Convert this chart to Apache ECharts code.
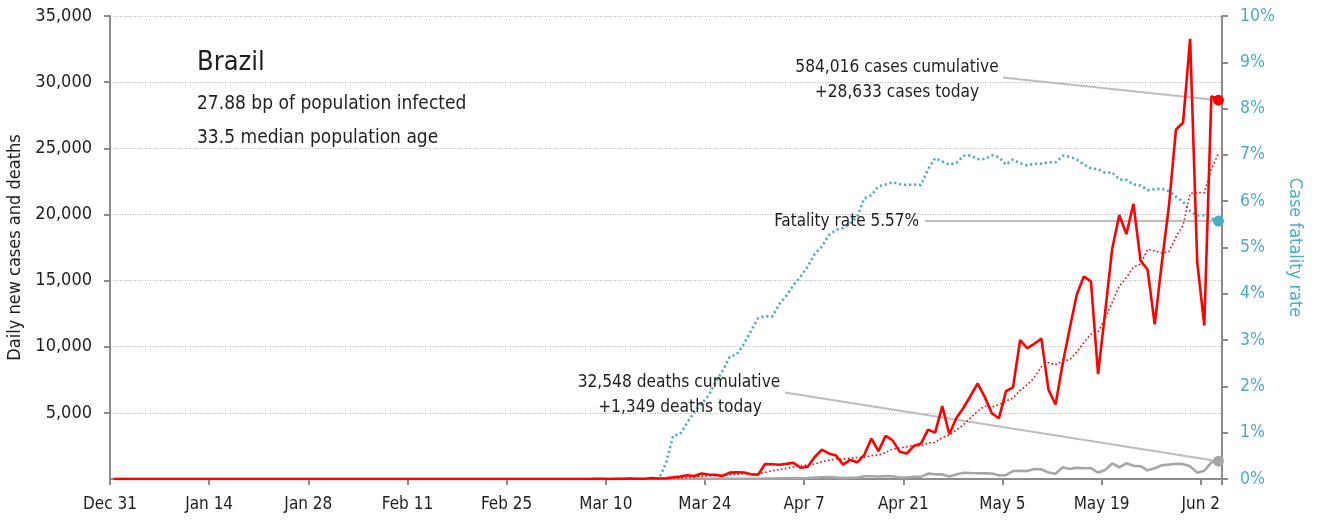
<!DOCTYPE html>
<html>
<head>
<meta charset="utf-8">
<title>Brazil</title>
<script src="https://cdn.jsdelivr.net/npm/echarts@6/dist/echarts.min.js"></script>
<style>
  html, body { margin: 0; padding: 0; background: #fff; }
  #chart { width: 1321px; height: 520px; }
</style>
</head>
<body>
<div id="chart"></div>
<script>
// one value per day, day 0 = Dec 31 2019, last day = Jun 4 2020
const FONT = '"DejaVu Sans Condensed", "Liberation Sans Narrow", sans-serif'
const RED = '#ff0000'
const GREY = '#a6a6a6'
const CYAN = '#4bacc6'
const INK = '#1e1e1e'

const tickLabels = ['Dec 31', 'Jan 14', 'Jan 28', 'Feb 11', 'Feb 25', 'Mar 10',
  'Mar 24', 'Apr 7', 'Apr 21', 'May 5', 'May 19', 'Jun 2']

// daily new cases
const cases = [
  0, 0, 0, 0, 0, 0, 0, 0, 0, 0,
  0, 0, 0, 0, 0, 0, 0, 0, 0, 0,
  0, 0, 0, 0, 0, 0, 0, 0, 0, 0,
  0, 0, 0, 0, 0, 0, 0, 0, 0, 0,
  0, 0, 0, 0, 0, 0, 0, 0, 0, 0,
  0, 0, 0, 0, 0, 0, 0, 0,
  1, 0, 0, 0, 1, 0, 0, 1,
  4, 5, 6, 6, 0, 9, 18, 25, 21, 23,
  79, 34, 57, 137, 193, 283, 224, 418, 345, 310,
  232, 482, 502, 487, 352, 323, 1138,
  1119, 1074, 1146, 1222, 852, 926, 1661, 2210, 1930, 1781,
  1089, 1442, 1261, 1832, 3058, 2105, 3257, 2917, 2055, 1927,
  2498, 2678, 3735, 3503, 5514, 3379, 4613, 5385, 6276, 7218,
  6209, 4970, 4588, 6633, 6935, 10503, 9888, 10222, 10611, 6760,
  5632, 8700, 11385, 13944, 15305, 14919, 7938, 12600, 17408, 19951,
  18508, 20803, 16508, 15813, 11687, 16324, 20599, 26417, 26928, 33274,
  16409, 11598, 28936, 28633,
]

// 7-day average of new cases
const casesAvg = [
  0, 0, 0, 0, 0, 0, 0, 0, 0, 0,
  0, 0, 0, 0, 0, 0, 0, 0, 0, 0,
  0, 0, 0, 0, 0, 0, 0, 0, 0, 0,
  0, 0, 0, 0, 0, 0, 0, 0, 0, 0,
  0, 0, 0, 0, 0, 0, 0, 0, 0, 0,
  0, 0, 0, 0, 0, 0, 0, 0, 0, 0,
  0, 0, 0, 0, 0, 0, 0, 0, 0, 0,
  0, 0,
  7, 10, 12, 15, 25, 30, 37, 54, 78, 115,
  144, 192, 237, 273, 286, 328, 359, 397, 387, 384,
  502, 629, 714, 806, 911, 982, 1068, 1143, 1299, 1421,
  1512, 1493, 1577, 1625, 1649, 1770, 1795, 2006, 2267, 2355,
  2450, 2545, 2491, 2724, 2759, 3130, 3319, 3703, 4115, 4629,
  5127, 5513, 5436, 5608, 5897, 6118, 6722, 7104, 7677, 8483,
  8793, 8650, 8902, 9028, 9607, 10334, 10949, 11117, 12113, 13357,
  14581, 15233, 16018, 16245, 17370, 17240, 17085, 17177, 18307, 19182,
  21577, 21663, 21650, 23452, 24599,
]

// daily new deaths
const deaths = [
  0, 0, 0, 0, 0, 0, 0, 0, 0, 0,
  0, 0, 0, 0, 0, 0, 0, 0, 0, 0,
  0, 0, 0, 0, 0, 0, 0, 0, 0, 0,
  0, 0, 0, 0, 0, 0, 0, 0, 0, 0,
  0, 0, 0, 0, 0, 0, 0, 0, 0, 0,
  0, 0, 0, 0, 0, 0, 0, 0, 0, 0,
  0, 0, 0, 0, 0, 0, 0, 0, 0, 0,
  0, 0, 0, 0, 0, 0, 0, 0,
  1, 3, 2, 5, 7, 7, 9, 12, 11, 20,
  15, 22, 22, 23, 42,
  39, 59, 60, 72, 55, 67, 114, 133, 141, 115,
  68, 99, 105, 204, 204, 188, 217, 206, 115, 113,
  166, 165, 407, 357, 346, 189, 338, 474, 449, 435,
  428, 421, 275, 296, 600, 615, 610, 751, 730, 496,
  396, 881, 749, 844, 824, 816, 485, 674, 1179, 888,
  1188, 1001, 965, 653, 807, 1039, 1086, 1156, 1124, 956,
  480, 623, 1262, 1349,
]

// case fatality rate (%), starting at day 76 (Mar 16)
const fatalityFrom = 76
const fatality = [
  0, 0,
  0.34, 0.93, 0.97, 1.22, 1.45, 1.62, 1.80, 2.09, 2.34, 2.64,
  2.69, 2.92, 3.20, 3.47, 3.52, 3.51, 3.78, 3.96, 4.19, 4.37,
  4.59, 4.86, 5.02, 5.27, 5.38, 5.42, 5.52, 5.67, 6.06, 6.13,
  6.32, 6.36, 6.41, 6.37, 6.35, 6.36, 6.35, 6.69, 6.93, 6.86,
  6.79, 6.83, 6.98, 6.99, 6.91, 6.91, 6.99, 6.95, 6.79, 6.90,
  6.82, 6.77, 6.81, 6.81, 6.84, 6.84, 6.98, 6.96, 6.90, 6.79,
  6.71, 6.69, 6.61, 6.62, 6.47, 6.46, 6.36, 6.34, 6.24, 6.26,
  6.27, 6.22, 6.10, 5.99, 5.78, 5.69, 5.69, 5.62, 5.57,
]

// points sit in the middle of their day
const xOf = (i) => i + 0.5
const toPairs = (arr, from = 0) => arr.map((v, i) => [xOf(from + i), v])

const chart = echarts.init(document.getElementById('chart'))

const axisLine = { show: true, lineStyle: { color: '#8c8c8c', width: 2 } }
const axisTick = { show: true, inside: false, length: 6, lineStyle: { color: '#8c8c8c', width: 2 } }

chart.setOption({
  animation: false,
  backgroundColor: '#ffffff',
  textStyle: { fontFamily: FONT },
  grid: { left: 110, right: 99, top: 16, bottom: 41, containLabel: false, outerBoundsMode: 'none' },
  xAxis: {
    type: 'value',
    min: 0,
    max: cases.length,
    interval: 14,
    axisLine,
    axisTick,
    splitLine: { show: false },
    axisLabel: {
      margin: 17,
      fontSize: 17,
      fontFamily: FONT,
      color: INK,
      formatter: (v) => (v % 14 === 0 && tickLabels[v / 14]) || '',
    },
  },
  yAxis: [
    {
      type: 'value',
      min: 0,
      max: 35000,
      interval: 5000,
      name: 'Daily new cases and deaths',
      nameLocation: 'middle',
      nameGap: 62,
      nameTextStyle: { fontSize: 18, fontFamily: FONT, color: INK },
      axisLine,
      axisTick,
      axisLabel: {
        margin: 18,
        fontSize: 18,
        fontFamily: FONT,
        color: INK,
        showMinLabel: false,
        formatter: (v) => v.toLocaleString('en-US'),
      },
      splitLine: { show: true, lineStyle: { color: '#b4b4b4', width: 1, type: [1, 1.5] } },
    },
    {
      type: 'value',
      min: 0,
      max: 10,
      interval: 1,
      position: 'right',
      name: 'Case fatality rate',
      nameLocation: 'middle',
      nameRotate: -90,
      nameGap: 46,
      nameTextStyle: { fontSize: 18, fontFamily: FONT, color: CYAN },
      axisLine,
      axisTick,
      axisLabel: { margin: 18, fontSize: 17.5, fontFamily: FONT, color: CYAN, formatter: '{value}%' },
      splitLine: { show: false },
    },
  ],
  series: [
    {
      name: 'Deaths',
      type: 'line',
      data: toPairs(deaths),
      showSymbol: false,
      lineStyle: { color: GREY, width: 2.6 },
      itemStyle: { color: GREY },
    },
    {
      name: 'Fatality rate',
      type: 'line',
      yAxisIndex: 1,
      data: toPairs(fatality, fatalityFrom),
      showSymbol: false,
      lineStyle: { color: CYAN, width: 2.6, type: [2.2, 2.8] },
      itemStyle: { color: CYAN },
    },
    {
      name: 'Cases 7-day avg',
      type: 'line',
      data: toPairs(casesAvg),
      showSymbol: false,
      lineStyle: { color: RED, width: 1.6, type: [1.6, 2.4] },
      itemStyle: { color: RED },
    },
    {
      name: 'Cases',
      type: 'line',
      data: toPairs(cases),
      showSymbol: false,
      lineStyle: { color: RED, width: 2.6 },
      itemStyle: { color: RED },
    },
  ],
})

// end points of the last day, in pixels
const last = cases.length - 1
const casesEnd = chart.convertToPixel({ seriesIndex: 3 }, [xOf(last), cases[last]])
const deathsEnd = chart.convertToPixel({ seriesIndex: 0 }, [xOf(last), deaths[last]])
const rateEnd = chart.convertToPixel({ seriesIndex: 1 }, [xOf(last), fatality[fatality.length - 1]])

const text = (str, x, y, size, align, color) => ({
  type: 'text',
  x,
  y,
  z: 20,
  silent: true,
  style: {
    text: str,
    fontSize: size,
    fontFamily: FONT,
    fill: color || INK,
    textAlign: align || 'left',
    textVerticalAlign: 'middle',
  },
})
const leader = (x1, y1, end) => ({
  type: 'line',
  z: 1,
  silent: true,
  shape: { x1, y1, x2: end[0], y2: end[1] },
  style: { stroke: '#bdbdbd', lineWidth: 2 },
})
const dot = (p, color) => ({
  type: 'circle',
  z: 20,
  silent: true,
  shape: { cx: p[0], cy: p[1], r: 5.5 },
  style: { fill: color },
})

chart.setOption({
  graphic: [
    text('Brazil', 197, 62.5, 27),
    text('27.88 bp of population infected', 197, 104, 19),
    text('33.5 median population age', 197, 138, 19),

    leader(1003, 77.5, casesEnd),
    leader(925, rateEnd[1], rateEnd),
    leader(785, 392.5, deathsEnd),

    text('584,016 cases cumulative', 897, 68, 17.2, 'center'),
    text('+28,633 cases today', 897, 93, 17.2, 'center'),
    text('Fatality rate 5.57%', 919, 222, 17, 'right'),
    text('32,548 deaths cumulative', 679, 383, 17.2, 'center'),
    text('+1,349 deaths today', 680, 408, 17.2, 'center'),

    dot(casesEnd, RED),
    dot(rateEnd, CYAN),
    dot(deathsEnd, GREY),
  ],
})
</script>
</body>
</html>
